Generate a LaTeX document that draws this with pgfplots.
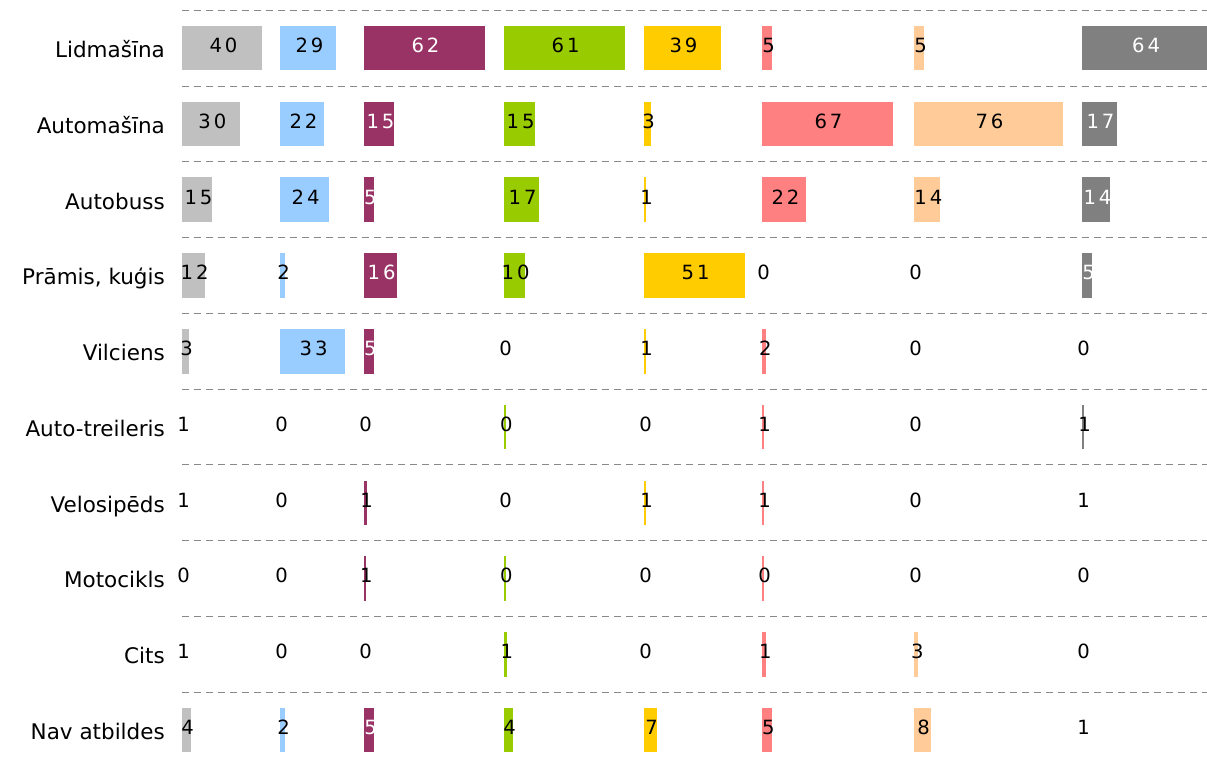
\documentclass[border=0pt]{standalone}
\usepackage{fontspec}
\setmainfont{DejaVu Sans}
\newfontfamily\lblfont[LetterSpace=15]{DejaVu Sans}
\usepackage{pgfplots}
\usepackage{pgfplotstable}
\pgfplotsset{compat=1.18}
\definecolor{c1}{HTML}{C0C0C0}
\definecolor{c2}{HTML}{99CCFF}
\definecolor{c3}{HTML}{993366}
\definecolor{c4}{HTML}{99CC00}
\definecolor{c5}{HTML}{FFCC00}
\definecolor{c6}{HTML}{FF8080}
\definecolor{c7}{HTML}{FFCC99}
\definecolor{c8}{HTML}{808080}
\definecolor{gl}{HTML}{888888}

% r = row (9 = top), b = bar length, l = printed label, w = 1 for white label
\pgfplotstableread{
r b l w
9 40.9 40 0
8 29.5 30 0
7 15.3 15 0
6 11.3 12 0
5 3.1 3 0
4 0 1 0
3 0 1 0
2 0 0 0
1 0 1 0
0 4.1 4 0
}\tA
\pgfplotstableread{
r b l w
9 28.6 29 0
8 22.5 22 0
7 24.7 24 0
6 2.2 2 0
5 32.9 33 0
4 0 0 0
3 0 0 0
2 0 0 0
1 0 0 0
0 2.2 2 0
}\tB
\pgfplotstableread{
r b l w
9 61.4 62 1
8 15.3 15 1
7 5.0 5 1
6 16.4 16 1
5 5.0 5 1
4 0 0 0
3 1.2 1 0
2 1.0 1 0
1 0 0 0
0 5.1 5 1
}\tC
\pgfplotstableread{
r b l w
9 61.5 61 0
8 15.5 15 0
7 17.5 17 0
6 10.4 10 0
5 0 0 0
4 1.0 0 0
3 0 0 0
2 1.0 0 0
1 1.3 1 0
0 4.2 4 0
}\tD
\pgfplotstableread{
r b l w
9 38.9 39 0
8 3.1 3 0
7 1.0 1 0
6 51.3 51 0
5 1.0 1 0
4 0 0 0
3 1.0 1 0
2 0 0 0
1 0 0 0
0 6.2 7 0
}\tE
\pgfplotstableread{
r b l w
9 5.1 5 0
8 66.5 67 0
7 22.5 22 0
6 0 0 0
5 1.9 2 0
4 1.0 1 0
3 1.0 1 0
2 1.0 0 0
1 2.0 1 0
0 5.0 5 0
}\tF
\pgfplotstableread{
r b l w
9 5.1 5 0
8 75.7 76 0
7 13.2 14 0
6 0 0 0
5 0 0 0
4 0 0 0
3 0 0 0
2 0 0 0
1 2.0 3 0
0 8.2 8 0
}\tG
\pgfplotstableread{
r b l w
9 64 64 1
8 17.4 17 1
7 14.3 14 1
6 5.1 5 1
5 0 0 0
4 1.0 1 0
3 0 1 0
2 0 0 0
1 0 0 0
0 0 1 0
}\tH

\pgfplotsset{lbl/.style={only marks, mark=none, point meta=explicit symbolic,
  nodes near coords,
  nodes near coords style={anchor=base, inner sep=0pt, xshift=1.5pt, yshift=-4.3pt,
    text=#1, font=\lblfont\fontsize{19.6}{21}\selectfont}}}

\newcommand{\panel}[4]{%
\begin{axis}[at={(#1pt,-1pt)}, anchor=south west, x=1.955pt, y=75.77pt,
  xmin=0, xmax=#2, ymin=-0.5, ymax=9.5, hide axis]
\addplot[xbar, bar width=0.575, bar shift=0pt, fill=#4, draw=#4, line width=1pt,
  x filter/.expression={x==0?nan:x}] table[x=b,y=r]{#3};
\addplot[lbl=black, restrict expr to domain={\thisrow{w}}{0:0}]
  table[x expr=\thisrow{b}/2, y=r, meta=l]{#3};
\addplot[lbl=white, restrict expr to domain={\thisrow{w}}{1:1}]
  table[x expr=\thisrow{b}/2, y=r, meta=l]{#3};
\end{axis}}

\begin{document}
\begin{tikzpicture}[x=1pt,y=1pt]
\useasboundingbox (0,0) rectangle (1207,767);
\begin{axis}[at={(182pt,-1pt)}, anchor=south west, x=1pt, y=75.77pt,
  xmin=0, xmax=1025, ymin=-0.5, ymax=9.5,
  axis line style={draw=none}, xtick=\empty, major tick length=0pt,
  ytick={0,...,9},
  yticklabels={Nav atbildes, Cits, Motocikls, Velosipēds, Auto-treileris, Vilciens, {Prāmis, kuģis}, Autobuss, Automašīna, Lidmašīna},
  yticklabel style={anchor=base east, inner sep=0pt, xshift=-17pt, yshift=-9.4pt, font=\fontsize{21.5}{25}\selectfont},
  extra y ticks={0.5,1.5,2.5,3.5,4.5,5.5,6.5,7.5,8.5,9.5},
  extra y tick labels={},
  extra y tick style={grid=major},
  grid style={dash pattern=on 7pt off 5pt, color=gl, line width=1pt}]
\end{axis}
\panel{182}{50}{\tA}{c1}
\panel{280}{43}{\tB}{c2}
\panel{364}{71.6}{\tC}{c3}
\panel{504}{71.6}{\tD}{c4}
\panel{644}{60.4}{\tE}{c5}
\panel{762}{77.7}{\tF}{c6}
\panel{914}{86}{\tG}{c7}
\panel{1082}{63.9}{\tH}{c8}
\end{tikzpicture}
\end{document}
